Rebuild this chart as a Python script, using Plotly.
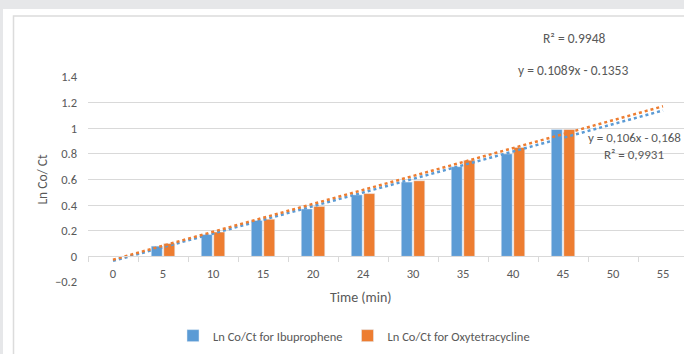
import numpy as np
import plotly.graph_objects as go

# Sampling times (min) and first-order kinetic values ln(C0/Ct)
time_min = ["0", "5", "10", "15", "20", "24", "30", "35", "40", "45", "50", "55"]
ibuprophene = [0, 0.08, 0.17, 0.28, 0.37, 0.48, 0.58, 0.70, 0.80, 0.99, None, None]
oxytetracycline = [0, 0.10, 0.19, 0.29, 0.39, 0.49, 0.59, 0.75, 0.85, 0.99, None, None]

# Trendline equations as printed on the chart
eq_ibu = ["y = 0,106x - 0,168", "R² = 0,9931"]
eq_oxy = ["R² = 0.9948", "y = 0.1089x - 0.1353"]

BLUE = "#5b9bd5"
ORANGE = "#ed7d31"
GREY_TXT = "#595959"
GRID = "#d9d9d9"
FONT = "Carlito, Calibri, Liberation Sans Narrow, Liberation Sans, sans-serif"

W, H = 684, 354
L, R, T, B = 88, 684, 77, 282  # plot-area box in pixels


def px_x(px):
    return (px - L) / (R - L)


def px_y(py):
    return (B - py) / (B - T)


def linear_trend(values):
    # Least-squares line over category positions 1..n, evaluated across the axis
    idx = np.array([i + 1 for i, v in enumerate(values) if v is not None], float)
    val = np.array([v for v in values if v is not None], float)
    slope, icpt = np.polyfit(idx, val, 1)
    ends = np.array([1, len(time_min)], float)
    return slope * ends + icpt


fig = go.Figure()
fig.add_trace(go.Bar(x=time_min, y=ibuprophene, name="Ln Co/Ct for Ibuprophene",
                     marker_color=BLUE))
fig.add_trace(go.Bar(x=time_min, y=oxytetracycline, name="Ln Co/Ct for Oxytetracycline",
                     marker_color=ORANGE))

for vals, col in ((ibuprophene, BLUE), (oxytetracycline, ORANGE)):
    fig.add_trace(go.Scatter(x=[time_min[0], time_min[-1]], y=linear_trend(vals),
                             mode="lines", showlegend=False, hoverinfo="skip",
                             line=dict(color=col, width=2.5, dash="dot")))


def label(text, cx, cy, size=13.5):
    return dict(text=text, xref="paper", yref="paper", x=px_x(cx), y=px_y(cy),
                xanchor="center", yanchor="middle", showarrow=False,
                font=dict(size=size, color=GREY_TXT))


fig.update_layout(
    width=W, height=H,
    margin=dict(l=L, r=W - R, t=T, b=H - B),
    paper_bgcolor="#e6e7e9",
    plot_bgcolor="rgba(0,0,0,0)",
    barmode="group", bargap=0.5, bargroupgap=0.12,
    font=dict(family=FONT, size=12, color=GREY_TXT),
    showlegend=True,
    legend=dict(orientation="h", x=px_x(354), xanchor="center", y=px_y(336),
                yanchor="middle", font=dict(size=12.5, color=GREY_TXT),
                bgcolor="rgba(0,0,0,0)", itemwidth=30, traceorder="normal"),
    xaxis=dict(type="category", categoryorder="array", categoryarray=time_min,
               range=[-0.5, -0.5 + (R - L) / 50], tickson="boundaries",
               ticks="outside", ticklen=5, tickcolor=GRID, showline=True,
               linecolor=GRID, linewidth=1, showgrid=False, anchor="free",
               position=0.125, ticklabelstandoff=6,
               tickfont=dict(size=12.5, color=GREY_TXT)),
    yaxis=dict(range=[-0.2, 1.4], dtick=0.2, tickformat="~g", showgrid=True,
               gridcolor=GRID, gridwidth=1, zeroline=False, showline=False,
               ticks="", ticklabelstandoff=10,
               tickfont=dict(size=12.5, color=GREY_TXT),
               title=dict(text="Ln Co/ Ct", font=dict(size=13.5, color=GREY_TXT),
                          standoff=4)),
    shapes=[
        dict(type="rect", xref="paper", yref="paper", layer="below",
             x0=px_x(3), x1=px_x(W + 5), y0=px_y(9), y1=px_y(H + 5),
             fillcolor="white", line=dict(width=0)),
        dict(type="rect", xref="paper", yref="paper", layer="below",
             x0=px_x(13.5), x1=px_x(W + 20), y0=px_y(16), y1=px_y(H + 20),
             fillcolor="rgba(0,0,0,0)", line=dict(color="#dcdcdc", width=1.5)),
    ],
    annotations=[
        label("Time (min)", 361, 297, 14),
        label(eq_oxy[0], 574, 38),
        label(eq_oxy[1], 573, 70),
        label(eq_ibu[0], 634, 137.5, 13),
        label(eq_ibu[1], 634, 154, 13),
    ],
)

fig.write_html("out.html")
